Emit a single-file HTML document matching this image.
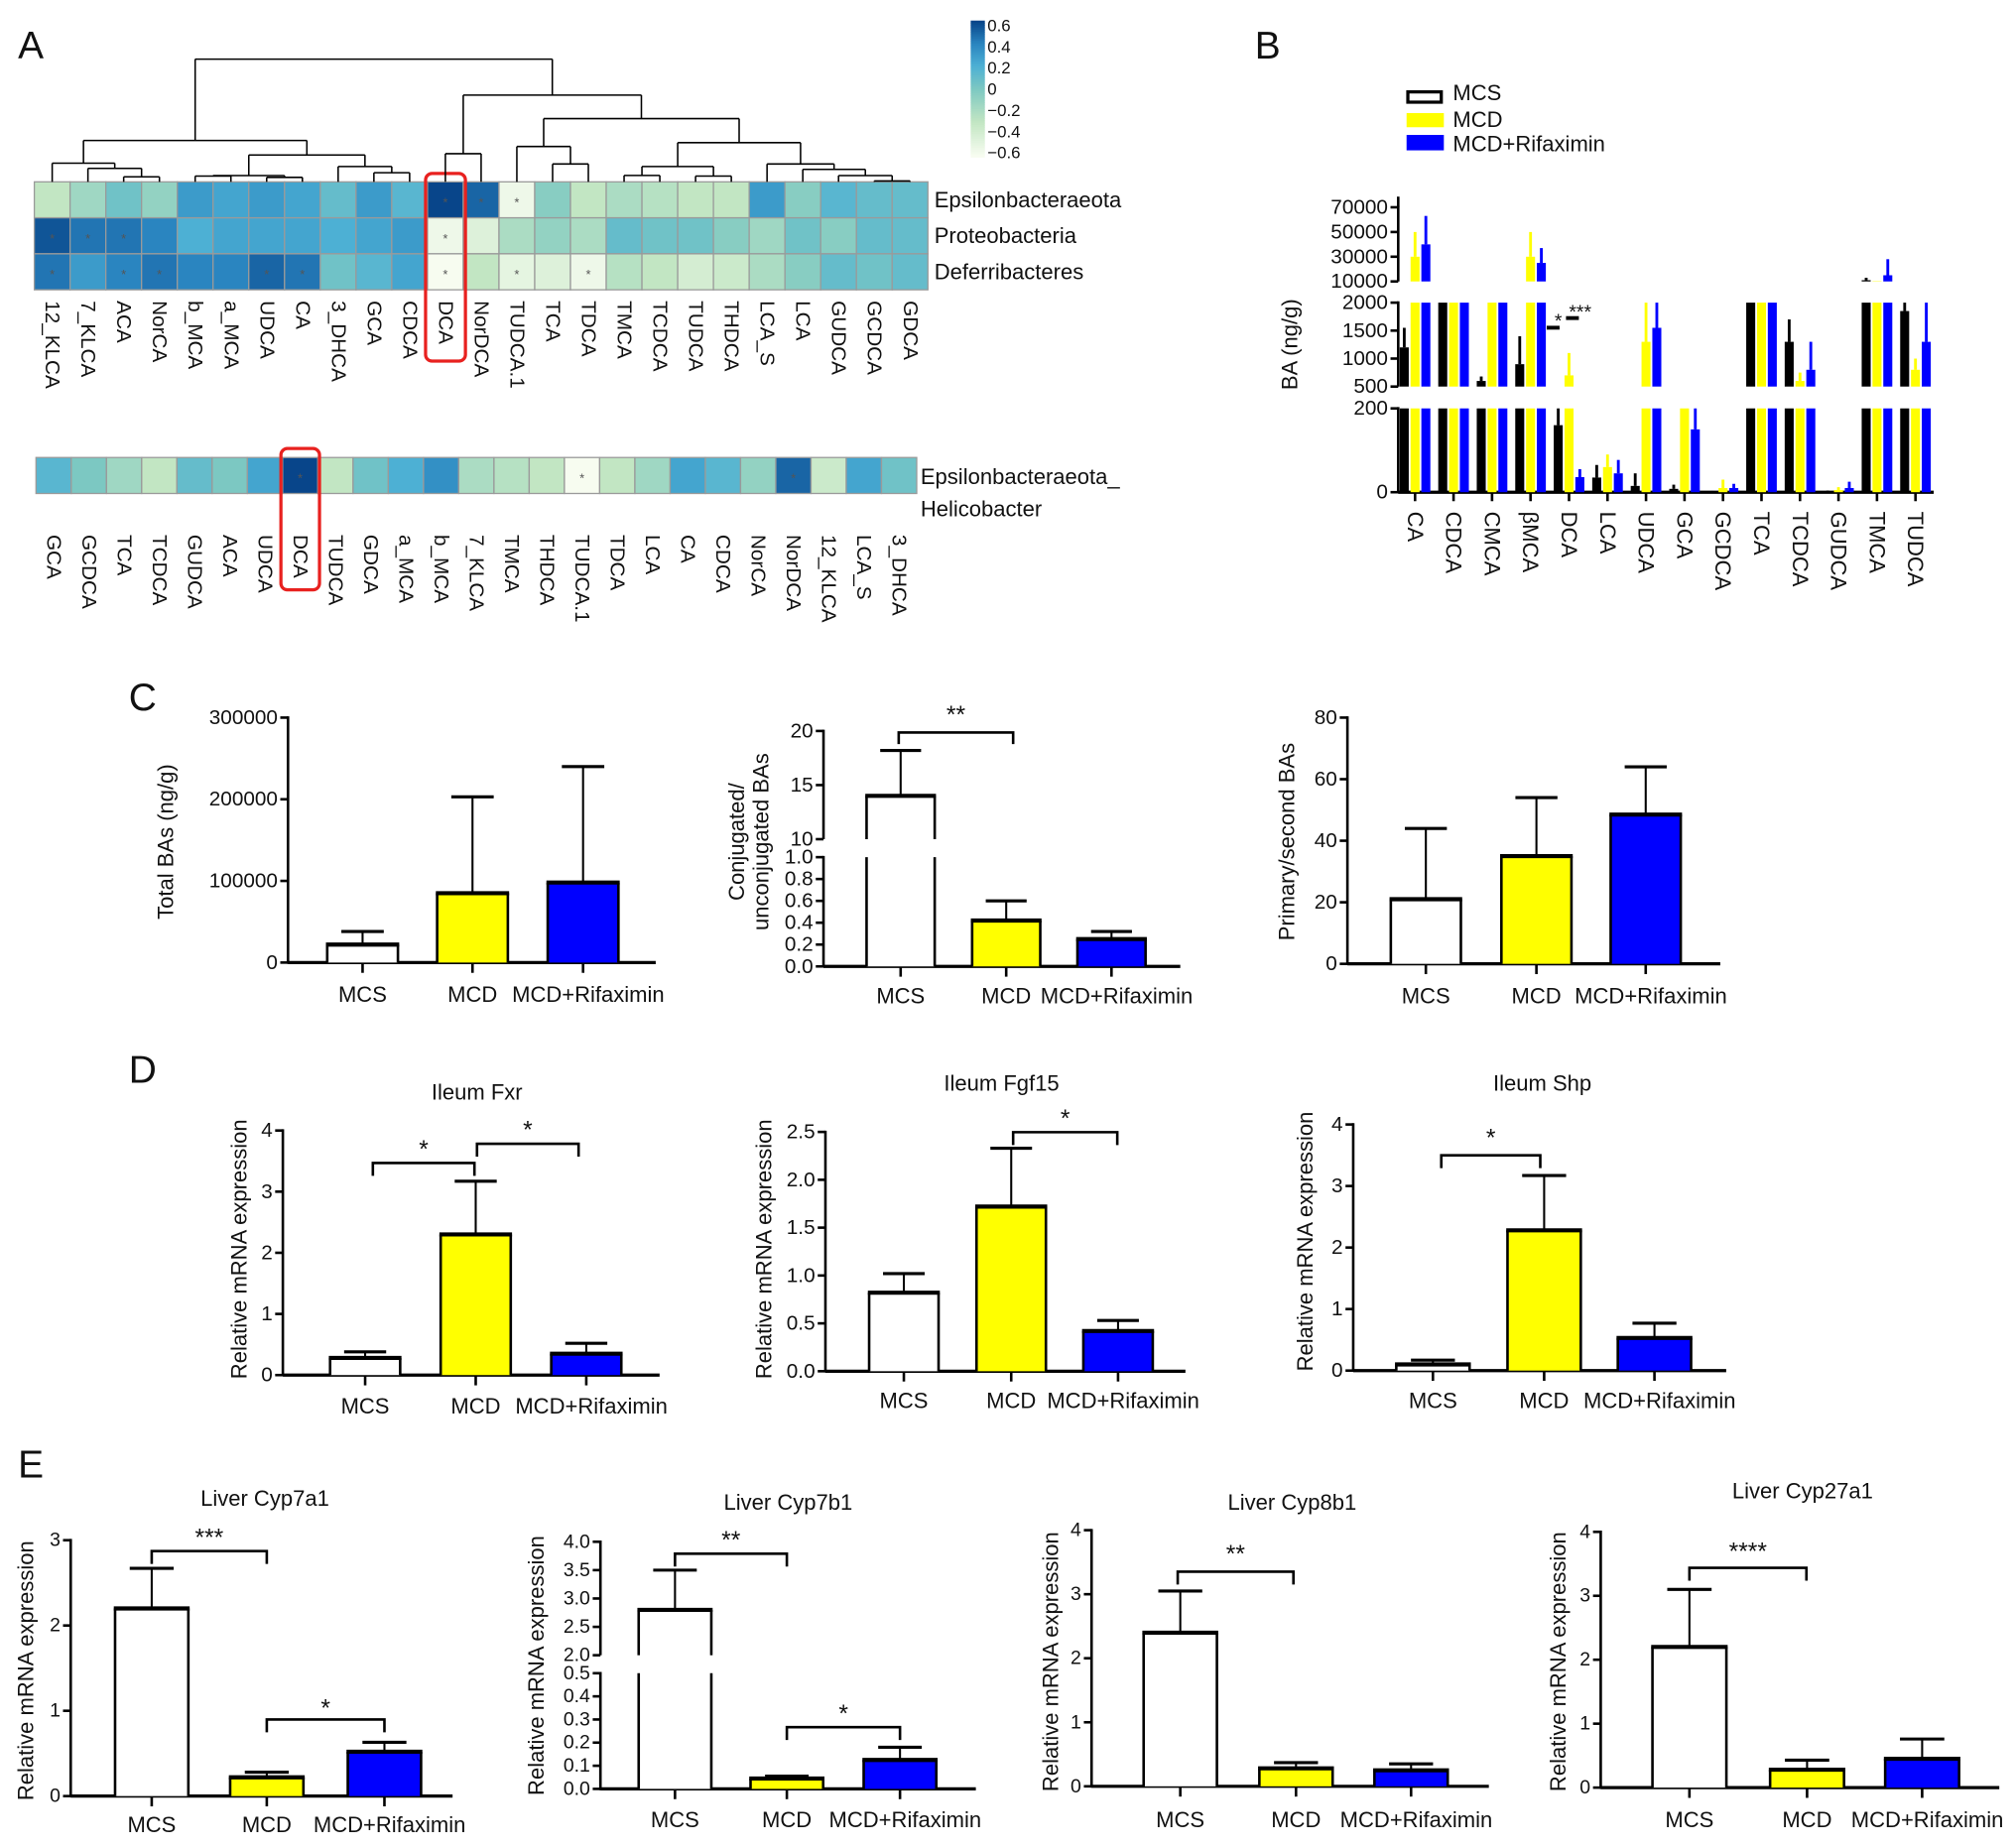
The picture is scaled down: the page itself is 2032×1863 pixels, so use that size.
<!DOCTYPE html>
<html><head><meta charset="utf-8"><style>
html,body{margin:0;padding:0;background:#fff}
svg{display:block;font-family:"Liberation Sans",Arial,sans-serif}
</style></head><body>
<svg id="fig" xmlns="http://www.w3.org/2000/svg" viewBox="0 0 1568 1438" width="2032" height="1863" preserveAspectRatio="none"></svg>
<script>
// ---------- DATA ----------
const hmCols=['12_KLCA','7_KLCA','ACA','NorCA','b_MCA','a_MCA','UDCA','CA','3_DHCA','GCA','CDCA','DCA','NorDCA','TUDCA.1','TCA','TDCA','TMCA','TCDCA','TUDCA','THDCA','LCA_S','LCA','GUDCA','GCDCA','GDCA'];
const hmRows=['Epsilonbacteraeota','Proteobacteria','Deferribacteres'];
const hmRow1=[-0.3,-0.15,0.05,-0.1,0.3,0.25,0.3,0.25,0.1,0.3,0.15,0.6,0.5,-0.55,-0.05,-0.3,-0.2,-0.25,-0.3,-0.3,0.3,-0.05,0.15,0.1,0.1];
const hmRow2=[0.55,0.45,0.45,0.4,0.2,0.25,0.25,0.25,0.2,0.25,0.3,-0.55,-0.45,-0.2,-0.1,-0.2,0.1,0.05,0.05,-0.05,-0.15,0.05,-0.05,0.1,0.1];
const hmRow3=[0.45,0.3,0.4,0.45,0.4,0.4,0.5,0.45,0.05,0.15,0.25,-0.6,-0.3,-0.5,-0.45,-0.55,-0.25,-0.3,-0.4,-0.35,-0.2,-0.05,0.1,0.05,0.1];
const hmStars1=[11,12,13];
const hmStars2=[0,1,2,11];
const hmStars3=[0,2,3,6,7,11,13,15];
const hm2Cols=['GCA','GCDCA','TCA','TCDCA','GUDCA','ACA','UDCA','DCA','TUDCA','GDCA','a_MCA','b_MCA','7_KLCA','TMCA','THDCA','TUDCA.1','TDCA','LCA','CA','CDCA','NorCA','NorDCA','12_KLCA','LCA_S','3_DHCA'];
const hm2Vals=[0.15,0,-0.15,-0.3,0.1,0,0.25,0.6,-0.3,0.05,0.2,0.35,-0.2,-0.25,-0.3,-0.6,-0.3,-0.15,0.25,0.15,-0.1,0.5,-0.35,0.25,0.05];
const hm2Stars=[7,15,21];
const cbTicks=[0.6,0.4,0.2,0,-0.2,-0.4,-0.6];

const baCats=['CA','CDCA','CMCA','βMCA','DCA','LCA','UDCA','GCA','GCDCA','TCA','TCDCA','GUDCA','TMCA','TUDCA'];
const mcsMeans=[1200,5000,600,900,160,35,15,8,2,5000,1300,2,11000,1850];
const mcsErrs=[1550,5000,680,1400,200,65,45,18,3,5000,1700,4,13000,2000];
const mcdMeans=[30000,5000,5000,30000,700,60,1300,300,10,5000,600,5,10300,800];
const mcdErrs=[50000,5000,5000,50000,1100,90,2000,300,30,5000,750,12,10300,1000];
const rifMeans=[40000,5000,5000,25000,36,45,1550,150,10,5000,800,10,15000,1300];
const rifErrs=[63000,5000,5000,37000,55,77,2000,200,20,5000,1300,25,28000,2000];

const groups=['MCS','MCD','MCD+Rifaximin'];
const totalMeans=[22000,85000,98000];   const totalErrs=[38000,203000,240000];
const conjMeans=[14,0.42,0.25];        const conjErrs=[18.2,0.6,0.32];
const primMeans=[21,35,48.5];          const primErrs=[44,54,64];
const fxrMeans=[0.28,2.3,0.35];        const fxrErrs=[0.38,3.17,0.52];
const fgfMeans=[0.82,1.72,0.42];       const fgfErrs=[1.02,2.33,0.53];
const shpMeans=[0.1,2.28,0.53];        const shpErrs=[0.17,3.17,0.77];
const c7a1Means=[2.2,0.22,0.52];       const c7a1Errs=[2.67,0.28,0.63];
const c7b1Means=[2.8,0.045,0.125];     const c7b1Errs=[3.5,0.055,0.18];
const c8b1Means=[2.4,0.28,0.25];       const c8b1Errs=[3.05,0.37,0.35];
const c27Means=[2.2,0.28,0.45];        const c27Errs=[3.1,0.43,0.76];

// ---------- HELPERS ----------
const NS='http://www.w3.org/2000/svg';
const svg=document.getElementById('fig');
function mk(tag,attrs,parent){const e=document.createElementNS(NS,tag);for(const k in attrs)e.setAttribute(k,attrs[k]);(parent||svg).appendChild(e);return e;}
function line(x1,y1,x2,y2,w,p,c){return mk('line',{x1:x1,y1:y1,x2:x2,y2:y2,stroke:c||'#000','stroke-width':w||1.5},p);}
function txt(s,x,y,size,anchor,p,rot){const e=mk('text',{x:x,y:y,'font-size':size,'text-anchor':anchor||'middle','dominant-baseline':'central',fill:'#111'},p);if(rot)e.setAttribute('transform','rotate('+rot+' '+x+' '+y+')');e.textContent=s;return e;}
function grp(name){const g=mk('g',{});return g;}

// panel letters
[['A',24,36],['B',986,36],['C',111,543],['D',111,833],['E',24,1140]].forEach(a=>{const t=txt(a[0],a[1],a[2],30,'middle');

});

// ---------- HEATMAP ----------
const stops=[[-0.6,[247,252,240]],[-0.3,[194,230,195]],[0,[124,200,194]],[0.2,[77,176,212]],[0.4,[42,133,192]],[0.6,[8,69,138]]];
function hcol(v){v=Math.max(-0.6,Math.min(0.6,v));for(let i=0;i<stops.length-1;i++){const a=stops[i],b=stops[i+1];if(v<=b[0]){const t=(v-a[0])/(b[0]-a[0]);const c=a[1].map((x,j)=>Math.round(x+(b[1][j]-x)*t));return 'rgb('+c.join(',')+')';}}return 'rgb(8,69,138)';}
(function(){
const g=grp('heatmap-top');
const x0=26.7,cw=27.8,y0=141.5,rh=28;
const rows=[hmRow1,hmRow2,hmRow3],stars=[hmStars1,hmStars2,hmStars3];
rows.forEach((r,ri)=>{r.forEach((v,ci)=>{const c=mk('rect',{x:x0+ci*cw,y:y0+ri*rh,width:cw,height:rh,fill:hcol(v),stroke:'#9a9a9a','stroke-width':1},g);


if(stars[ri].includes(ci))txt('*',x0+(ci+0.5)*cw,y0+ri*rh+rh/2+2,10,'middle',g).setAttribute('fill','#555');});
const t=txt(hmRows[ri],x0+25*cw+5,y0+ri*rh+rh/2,17,'start',g);

});
hmCols.forEach((c,i)=>{const t=txt(c,x0+(i+0.5)*cw,234,16,'start',g,90);

});
const tree=[[[0,[1,[2,3,137.6],131],127],[[[4,5,137],[6,7,138],136.6],[8,[9,10,134.4],129.6],120.6],109.3],[[11,12,119.6],[[13,[14,15,127.6],114],[[[16,17,136.5],[18,19,137],129.6],[20,[21,[22,[23,24,140.8],136.6],131.8],127.6],111],92.3],74],46];
const dg=grp('dendrogram');
function draw(n){if(typeof n==='number')return [x0+(n+0.5)*cw,y0];const a=draw(n[0]),b=draw(n[1]);const y=n[2];
line(a[0],y,b[0],y,1.2,dg);line(a[0],y,a[0],a[1],1.2,dg);line(b[0],y,b[0],b[1],1.2,dg);return [(a[0]+b[0])/2,y];}
draw(tree);
const rb=mk('rect',{x:331,y:135,width:31,height:146,rx:5,fill:'none',stroke:'#e8211f','stroke-width':2.5},g);


const cb=grp('colorbar');
for(let i=0;i<60;i++){const v=0.6-1.2*i/59;mk('rect',{x:755,y:16+i*106/60,width:11,height:106/60+0.6,fill:hcol(v)},cb);}
cbTicks.forEach(v=>{const y=20+(0.6-v)/1.2*99;txt((v<0?'\u22120.'+String(Math.round(-v*10)):(v===0?'0':'0.'+Math.round(v*10))),768,y,13,'start',cb);});
const g2=grp('heatmap-bottom');
const bx0=28,bw2=27.4,by0=356,bh=28;
hm2Vals.forEach((v,i)=>{const c=mk('rect',{x:bx0+i*bw2,y:by0,width:bw2,height:bh,fill:hcol(v),stroke:'#9a9a9a','stroke-width':1},g2);


if(hm2Stars.includes(i))txt('*',bx0+(i+0.5)*bw2,by0+bh/2+2,10,'middle',g2).setAttribute('fill','#555');});
hm2Cols.forEach((c,i)=>{const t=txt(c,bx0+(i+0.5)*bw2,416,16,'start',g2,90);

});
txt('Epsilonbacteraeota_',716,371,17,'start',g2);
txt('Helicobacter',716,396,17,'start',g2);
const rb2=mk('rect',{x:218.5,y:349,width:30,height:110,rx:5,fill:'none',stroke:'#e8211f','stroke-width':2.5},g2);


})();

// ---------- GENERIC SEGMENTED AXIS ----------
function segY(s,v){return s.ylo-(v-s.lo)/(s.hi-s.lo)*(s.ylo-s.yhi);}
function drawAxis(g,ax,segs,fs,fmt){segs.forEach(s=>{line(ax,s.ylo+(s===segs[0]?1:0),ax,s.yhi-1,2,g);
s.ticks.forEach(t=>{const y=segY(s,t);line(ax-6,y,ax,y,2,g);txt(fmt?fmt(t):String(t),ax-8,y,fs,'end',g);});});}
function drawBar(g,segs,cx,bw,m,e,fill,edge){
segs.forEach((s,si)=>{if(m>s.lo){const top=Math.min(m,s.hi);const yb=segY(s,s.lo),yt=segY(s,top);
const r=mk('rect',{x:cx-bw/2,y:yt,width:bw,height:yb-yt,fill:fill},g);


if(edge){line(cx-bw/2,yb,cx-bw/2,yt,2,g);line(cx+bw/2,yb,cx+bw/2,yt,2,g);if(m<=s.hi)line(cx-bw/2-1,yt,cx+bw/2+1,yt,3.2,g);}}
if(e>m){const lo=Math.max(m,s.lo),hi=Math.min(e,s.hi);if(hi>lo&&!(m>s.hi)){line(cx,segY(s,lo),cx,segY(s,hi),edge?1.6:2.2,g,edge?'#000':fill);if(e<=s.hi&&edge)line(cx-bw*0.3,segY(s,e),cx+bw*0.3,segY(s,e),2.4,g);}}});}

// ---------- PANEL B ----------
(function(){
const g=grp('panel-b-chart');
const ax=1087.5,x0=1100.6,dx=29.94,off=8.4,bw=7;
const segs=[{lo:0,hi:200,ylo:383,yhi:317.8,ticks:[0,200]},{lo:500,hi:2000,ylo:300.8,yhi:235.5,ticks:[500,1000,1500,2000]},{lo:10000,hi:70000,ylo:219,yhi:161.3,ticks:[10000,30000,50000,70000]}];
drawAxis(g,ax,segs,16);
line(ax,161,ax,153,2,g);
line(ax,383,1504,383,2.5,g);
const series=[[mcsMeans,mcsErrs,'#000'],[mcdMeans,mcdErrs,'#ffff00'],[rifMeans,rifErrs,'#0000ff']];
baCats.forEach((c,i)=>{const cx=x0+i*dx;line(cx,383,cx,390,2,g);
series.forEach((s,k)=>{drawBar(g,segs,cx+(k-1)*off,bw,s[0][i],s[1][i],s[2],false);});
const t=txt(c,cx,398,17,'start',g,90);

});
txt('BA (ng/g)',1003,268,17,'middle',g,-90);
line(1203,255,1213,255,3,g);line(1218,247.5,1228,247.5,3,g);
txt('*',1212,250,15,'middle',g);txt('***',1229,243,15,'middle',g);
const lg=grp('legend');
const l1=mk('rect',{x:1095,y:71.5,width:26,height:8,fill:'#fff',stroke:'#000','stroke-width':2.5},lg);

mk('rect',{x:1094,y:88,width:29,height:11,fill:'#ffff00'},lg);
mk('rect',{x:1094,y:105,width:29,height:12,fill:'#0000ff'},lg);
txt('MCS',1130,72,17,'start',lg);txt('MCD',1130,93,17,'start',lg);txt('MCD+Rifaximin',1130,112,17,'start',lg);
})();

// ---------- SIMPLE BAR PANELS ----------
const fills=['#ffffff','#ffff00','#0000ff'];
function panel(name,L,means,errs){
const g=grp(name);
drawAxis(g,L.ax,L.segs,L.fs||16,L.fmt);
const base=L.segs[0].ylo;
line(L.ax,base,L.axEnd,base,2.5,g);
L.centers.forEach((cx,i)=>{line(cx,base,cx,base+8,2,g);
drawBar(g,L.segs,cx,L.bw,means[i],errs[i],fills[i],true);
const t=txt(groups[i],cx+(i===2?4:0),L.labelY,17,'middle',g);

});
if(L.title){const t=txt(L.title,L.tx,L.ty,17,'middle',g);

}
L.ylab.forEach(y=>{const t=txt(y[0],y[1],L.ylabY,17,'middle',g,-90);

});
(L.br||[]).forEach(b=>{mk('polyline',{points:b[0]+','+b[3]+' '+b[0]+','+b[2]+' '+b[1]+','+b[2]+' '+b[1]+','+b[3],fill:'none',stroke:'#000','stroke-width':2},g);
txt(b[4],(b[0]+b[1])/2,b[5],19,'middle',g);});
}
const f1=v=>v.toFixed(1);
const rng=(a,b,s)=>{const r=[];for(let v=a;v<=b+1e-9;v+=s)r.push(+v.toFixed(4));return r;};

panel('panel-c-total',{ax:224,axEnd:510,segs:[{lo:0,hi:300000,ylo:749,yhi:558.4,ticks:[0,100000,200000,300000]}],centers:[282,367.5,453.5],bw:55,labelY:774,ylab:[['Total BAs (ng/g)',129]],ylabY:655},totalMeans,totalErrs);
panel('panel-c-conjugated',{ax:640.5,axEnd:918,segs:[{lo:0,hi:1,ylo:752,yhi:667,ticks:rng(0,1,0.2)},{lo:10,hi:20,ylo:653,yhi:568.8,ticks:[10,15,20]}],fmt:v=>v>=10?String(v):f1(v),centers:[700.5,782.6,864.5],bw:53,labelY:775,ylab:[['Conjugated/',573],['unconjugated BAs',592]],ylabY:655,br:[[699,788,570,579,'**',557]]},conjMeans,conjErrs);
panel('panel-c-primary',{ax:1048,axEnd:1338,segs:[{lo:0,hi:80,ylo:750,yhi:558.4,ticks:[0,20,40,60,80]}],centers:[1109,1195,1280],bw:54.5,labelY:775,ylab:[['Primary/second BAs',1001]],ylabY:655},primMeans,primErrs);

panel('panel-d-fxr',{ax:220,axEnd:513,segs:[{lo:0,hi:4,ylo:1070,yhi:879.7,ticks:[0,1,2,3,4]}],centers:[284,370,456],bw:54.5,labelY:1094,title:'Ileum Fxr',tx:371,ty:850,ylab:[['Relative mRNA expression',186]],ylabY:972,br:[[290,369,905,915,'*',895],[371,450,890,900,'*',880]]},fxrMeans,fxrErrs);
panel('panel-d-fgf15',{ax:642,axEnd:922,segs:[{lo:0,hi:2.5,ylo:1067,yhi:880.8,ticks:rng(0,2.5,0.5)}],fmt:f1,centers:[703,786.5,869.6],bw:54,labelY:1090,title:'Ileum Fgf15',tx:779,ty:843,ylab:[['Relative mRNA expression',594]],ylabY:972,br:[[788,869,881,891,'*',871]]},fgfMeans,fgfErrs);
panel('panel-d-shp',{ax:1052.5,axEnd:1342.6,segs:[{lo:0,hi:4,ylo:1066.5,yhi:875,ticks:[0,1,2,3,4]}],centers:[1114.5,1201,1286.8],bw:57,labelY:1090,title:'Ileum Shp',tx:1199.6,ty:843,ylab:[['Relative mRNA expression',1015]],ylabY:966,br:[[1121,1198,899,909,'*',886]]},shpMeans,shpErrs);

panel('panel-e-cyp7a1',{ax:55,axEnd:352,fs:15,segs:[{lo:0,hi:3,ylo:1397.6,yhi:1198.5,ticks:[0,1,2,3]}],centers:[118,207.5,299],bw:57,labelY:1420,title:'Liver Cyp7a1',tx:206,ty:1166,ylab:[['Relative mRNA expression',20]],ylabY:1300,br:[[118,207.5,1207,1217,'***',1197],[207.5,299,1338,1348,'*',1330]]},c7a1Means,c7a1Errs);
panel('panel-e-cyp7b1',{ax:467,axEnd:759,fs:15,segs:[{lo:0,hi:0.5,ylo:1392,yhi:1302,ticks:rng(0,0.5,0.1)},{lo:2,hi:4,ylo:1288,yhi:1199.7,ticks:[2,2.5,3,3.5,4]}],fmt:f1,centers:[525,612,700],bw:56.5,labelY:1416,title:'Liver Cyp7b1',tx:613,ty:1169,ylab:[['Relative mRNA expression',417]],ylabY:1296,br:[[525,612,1209,1219,'**',1199],[612,700,1344,1354,'*',1334]]},c7b1Means,c7b1Errs);
panel('panel-e-cyp8b1',{ax:849,axEnd:1158,fs:15,segs:[{lo:0,hi:4,ylo:1390,yhi:1190.7,ticks:[0,1,2,3,4]}],centers:[918,1008,1097.5],bw:57,labelY:1416,title:'Liver Cyp8b1',tx:1005,ty:1169,ylab:[['Relative mRNA expression',817]],ylabY:1293,br:[[916,1006,1223,1233,'**',1210]]},c8b1Means,c8b1Errs);
panel('panel-e-cyp27a1',{ax:1245,axEnd:1555,fs:15,segs:[{lo:0,hi:4,ylo:1391,yhi:1192,ticks:[0,1,2,3,4]}],centers:[1314,1405.5,1495],bw:57.5,labelY:1416,title:'Liver Cyp27a1',tx:1402,ty:1160,ylab:[['Relative mRNA expression',1212]],ylabY:1293,br:[[1314,1405,1220,1230,'****',1208]]},c27Means,c27Errs);
</script>
</body></html>
